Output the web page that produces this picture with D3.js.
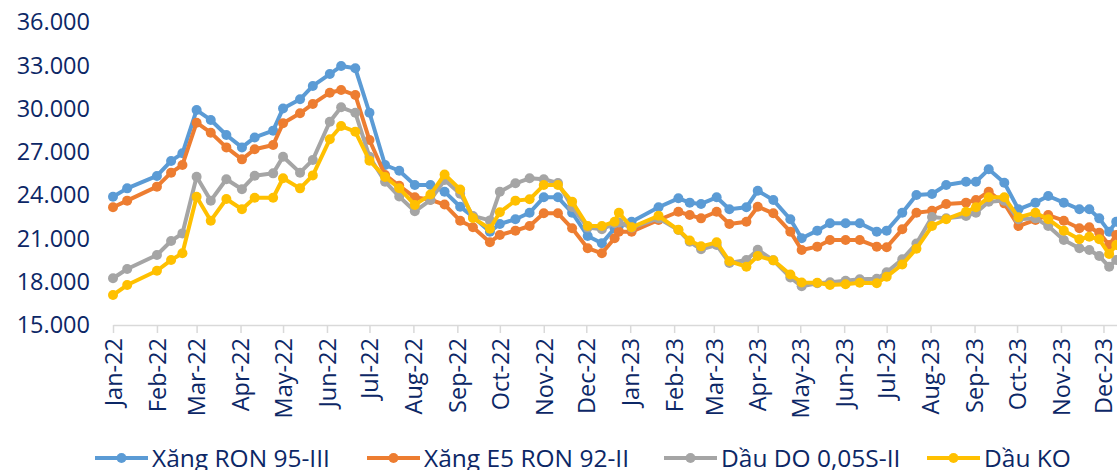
<!DOCTYPE html>
<html>
<head>
<meta charset="utf-8">
<script src="https://cdn.jsdelivr.net/npm/d3@7"></script>
<style>
  body { margin: 0; background: #fff; }
  text { font-family: "Open Sans", sans-serif; }
</style>
</head>
<body>
<div id="my_dataviz"></div>
<script>

// price adjustment dates
var dates = ["2022-01-01","2022-01-11","2022-02-01","2022-02-11","2022-02-19","2022-03-01","2022-03-11","2022-03-22",
  "2022-04-02","2022-04-11","2022-04-24","2022-05-01","2022-05-13","2022-05-22","2022-06-03","2022-06-11","2022-06-21",
  "2022-07-01","2022-07-12","2022-07-22","2022-08-02","2022-08-13","2022-08-23","2022-09-03","2022-09-12","2022-09-24",
  "2022-10-01","2022-10-12","2022-10-22","2022-11-01","2022-11-11","2022-11-21","2022-12-02","2022-12-12","2022-12-21",
  "2022-12-24","2023-01-02","2023-01-21","2023-02-04","2023-02-12","2023-02-20","2023-03-03","2023-03-12","2023-03-24",
  "2023-04-01","2023-04-12","2023-04-24","2023-05-02","2023-05-13","2023-05-22","2023-06-02","2023-06-12","2023-06-24",
  "2023-07-01","2023-07-12","2023-07-22","2023-08-02","2023-08-12","2023-08-26","2023-09-02","2023-09-11","2023-09-22",
  "2023-10-02","2023-10-14","2023-10-23","2023-11-03","2023-11-14","2023-11-21","2023-11-28","2023-12-05","2023-12-10"];

var ron95 = [23890, 24470, 25330, 26370, 26900, 29900, 29210, 28170, 27310, 28000,
  28470, 30010, 30640, 31570, 32390, 32950, 32790, 29710, 26090, 25690,
  24700, 24700, 24240, 23200, 22500, 21470, 22000, 22330, 22780, 23850,
  23850, 22780, 21170, 20660, 21700, 21860, 22160, 23160, 23780, 23480,
  23390, 23850, 23020, 23160, 24310, 23660, 22330, 21010, 21540, 22050,
  22050, 22050, 21470, 21540, 22780, 24010, 24080, 24700, 24930, 24930,
  25790, 24860, 23020, 23480, 23940, 23480, 23020, 23020, 22390, 21470, 22160];

var e5ron92 = [23160, 23620, 24590, 25560, 26090, 29020, 28330, 27310, 26480, 27180,
  27480, 28980, 29670, 30320, 31100, 31290, 30940, 27820, 25400, 24650,
  23850, 23680, 23350, 22230, 21770, 20740, 21240, 21540, 21860, 22740,
  22740, 21700, 20320, 19970, 21010, 21470, 21470, 22280, 22850, 22620,
  22390, 22850, 22000, 22160, 23200, 22740, 21470, 20200, 20430, 20890,
  20890, 20890, 20430, 20390, 21630, 22780, 22910, 23390, 23480, 23660,
  24240, 23430, 21860, 22280, 22620, 22230, 21700, 21770, 21400, 20540, 21240];

var dauDO = [18240, 18880, 19850, 20820, 21350, 25280, 23620, 25100, 24410, 25350,
  25510, 26660, 25560, 26440, 29090, 30090, 29710, 26660, 24930, 23900,
  22880, 23660, 25050, 24100, 22560, 22250, 24240, 24820, 25170, 25100,
  24840, 23180, 21750, 21630, 22050, 22100, 21750, 22390, 21580, 20770,
  20250, 20540, 19300, 19500, 20220, 19480, 18300, 17680, 17890, 17960,
  18070, 18170, 18200, 18660, 19560, 20640, 22480, 22390, 22560, 22780,
  23550, 23620, 22330, 22390, 21860, 20890, 20320, 20200, 19780, 19040, 19500];

var dauKO = [17080, 17770, 18760, 19500, 19970, 23890, 22230, 23730, 23020, 23820,
  23820, 25170, 24470, 25370, 27870, 28790, 28400, 26390, 25260, 24480,
  23320, 24040, 25430, 24390, 22420, 21670, 22820, 23620, 23710, 24700,
  24700, 23550, 21860, 21860, 22160, 22780, 21770, 22570, 21600, 20860,
  20450, 20730, 19420, 19040, 19780, 19480, 18500, 17950, 17930, 17770,
  17830, 17930, 17890, 18350, 19190, 20290, 21860, 22330, 22850, 23160,
  23850, 23850, 22460, 22780, 22330, 21540, 20940, 21120, 20940, 19920, 20540];

var seriesNames = ["Xăng RON 95-III", "Xăng E5 RON 92-II", "Dầu DO 0,05S-II", "Dầu KO"];
var yTicks = [15000, 18000, 21000, 24000, 27000, 30000, 33000, 36000];

var colors = ["#5b9bd5", "#ed7d31", "#a5a5a5", "#ffc000"];
var textColor = "#0c2766";
var fontSize = "23.5px";

// set the dimensions of the graph
var width = 1117,
    height = 470;

var svg = d3.select("#my_dataviz")
  .append("svg")
    .attr("width", width)
    .attr("height", height);

var parse = d3.utcParse("%Y-%m-%d");
var series = [ron95, e5ron92, dauDO, dauKO].map(function (vals, i) {
  return {
    name: seriesNames[i],
    color: colors[i],
    values: vals.map(function (v, j) { return {date: parse(dates[j]), value: v}; })
  };
});

// X scale (date axis, runs a bit past the right edge)
var x = d3.scaleUtc()
  .domain([parse("2022-01-01"), parse("2024-01-01")])
  .range([113, 113 + 730 * 1.417]);

// Y scale
var y = d3.scaleLinear()
  .domain([15000, 36000])
  .range([325, 22]);

var vn = d3.formatLocale({decimal: ",", thousands: ".", grouping: [3], currency: ["", ""]});

// Add Y labels (no axis line)
svg.append("g")
  .selectAll("text")
  .data(yTicks)
  .enter()
  .append("text")
    .attr("x", 90)
    .attr("y", function (d) { return y(d); })
    .attr("dy", "0.35em")
    .attr("text-anchor", "end")
    .style("font-size", fontSize)
    .style("fill", textColor)
    .text(function (d) { return vn.format(",.0f")(d); });

// Add X axis
var xAxis = svg.append("g")
  .attr("transform", "translate(0," + y(15000) + ")")
  .call(d3.axisBottom(x)
    .ticks(d3.utcMonth.every(1))
    .tickFormat(d3.utcFormat("%b-%y"))
    .tickSize(8)
    .tickSizeOuter(0));

xAxis.select(".domain")
  .attr("stroke", "#d9d9d9")
  .attr("stroke-width", 1.5);
xAxis.selectAll(".tick line")
  .attr("stroke", "#d9d9d9")
  .attr("stroke-width", 1.5);
xAxis.selectAll(".tick text")
  .attr("transform", "rotate(-90)")
  .attr("text-anchor", "end")
  .attr("x", -13)
  .attr("y", 0)
  .attr("dy", "0.35em")
  .style("font-family", "'Open Sans', sans-serif")
  .style("font-size", fontSize)
  .style("fill", textColor);

// Add lines
var line = d3.line()
  .x(function (d) { return x(d.date); })
  .y(function (d) { return y(d.value); });

var groups = svg.append("g")
  .selectAll("g")
  .data(series)
  .enter()
  .append("g");

groups.append("path")
  .attr("d", function (d) { return line(d.values); })
  .attr("fill", "none")
  .attr("stroke", function (d) { return d.color; })
  .attr("stroke-width", 4)
  .attr("stroke-linejoin", "round")
  .attr("stroke-linecap", "round");

// Add dots
groups.each(function (s) {
  d3.select(this).selectAll("circle")
    .data(s.values)
    .enter()
    .append("circle")
      .attr("cx", function (d) { return x(d.date); })
      .attr("cy", function (d) { return y(d.value); })
      .attr("r", 5)
      .style("fill", s.color);
});

// Legend
var legendX = [95, 367, 664, 927];
var legend = svg.append("g")
  .selectAll("g")
  .data(series)
  .enter()
  .append("g")
    .attr("transform", function (d, i) { return "translate(" + legendX[i] + ",458)"; });

legend.append("line")
  .attr("x1", 0).attr("x2", 53)
  .attr("stroke", function (d) { return d.color; })
  .attr("stroke-width", 4);

legend.append("circle")
  .attr("cx", 26.5)
  .attr("r", 5)
  .style("fill", function (d) { return d.color; });

legend.append("text")
  .attr("x", 57)
  .attr("y", 9)
  .style("font-size", "24.5px")
  .style("fill", textColor)
  .text(function (d) { return d.name; });

</script>
</body>
</html>
